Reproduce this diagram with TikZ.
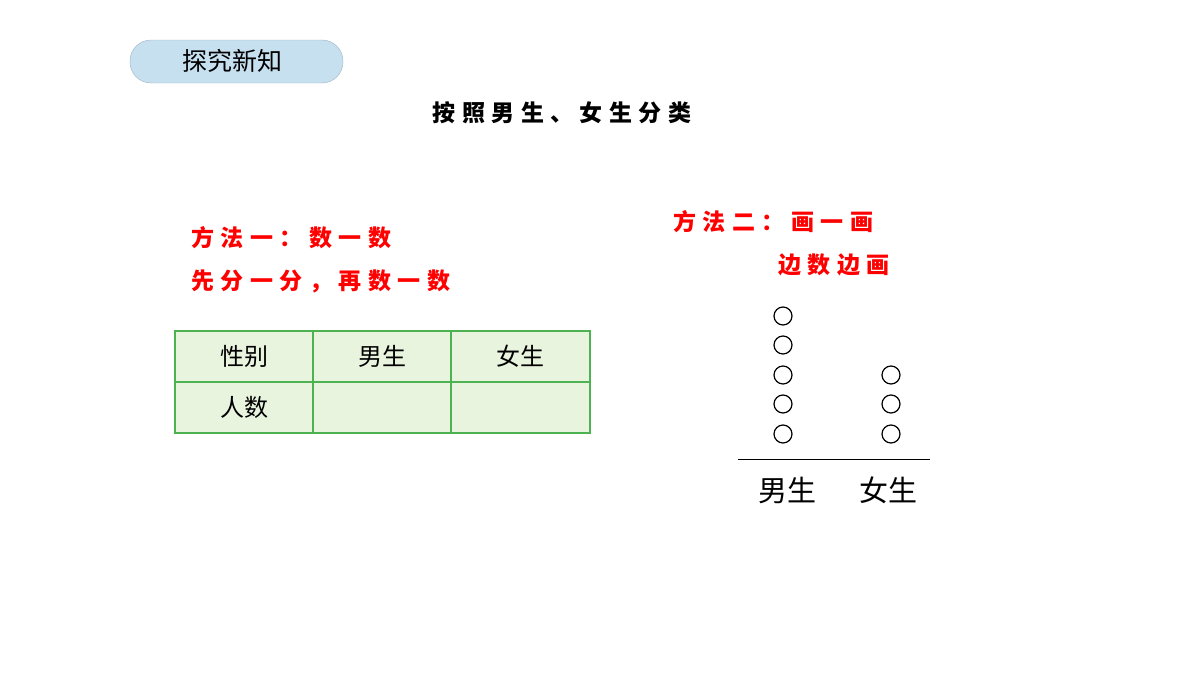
\documentclass[tikz,border=0pt]{standalone}
\usepackage{fontspec}
\newfontfamily\cjk{Noto Sans CJK SC}
\newfontfamily\cjkwide{Noto Sans CJK SC}[LetterSpace=28]
\definecolor{pillblue}{HTML}{C6E0F0}
\definecolor{cellgreen}{HTML}{E9F4DE}
\definecolor{linegreen}{HTML}{4DB352}
\tikzstyle{every node}=[font=\cjk]
\tikzset{
  redtext/.style={anchor=west, red, font=\cjkwide\fontsize{23}{26}\selectfont\bfseries},
  cell/.style={font=\cjk\fontsize{24}{28}\selectfont},
  dot/.style={circle, draw, very thick, minimum size=18pt, inner sep=0pt}
}
\begin{document}
\begin{tikzpicture}[x=1pt, y=-1pt]
\useasboundingbox (0,0) rectangle (1200,675);
% Heading
    \filldraw[fill=pillblue, draw=pillblue!80!black, thin, rounded corners=21pt] (130,40) rectangle (343,83);
    \node[font=\cjk\fontsize{25}{28}\selectfont] (head) at (232,61) {探究新知};
    \node[font=\cjkwide\fontsize{23}{26}\selectfont\bfseries] (title) at (562,113) {按照男生、女生分类};
% Method one
    \node[redtext] (m1) at (188,238) {方法一：数一数};
    \node[redtext] (m1b) at (188,281) {先分一分，再数一数};
% Table
    \fill[cellgreen] (175,331) rectangle (590,433);
    \draw[linegreen, very thick] (175,331) rectangle (590,433);
    \draw[linegreen, very thick] (175,382) -- (590,382);
    \draw[linegreen, very thick] (313,331) -- (313,433);
    \draw[linegreen, very thick] (451,331) -- (451,433);
    \node[cell] (c11) at (244,356) {性别};
    \node[cell] (c12) at (382,356) {男生};
    \node[cell] (c13) at (520,356) {女生};
    \node[cell] (c21) at (244,407) {人数};
% Method two
    \node[redtext] (m2) at (670,222) {方法二：画一画};
    \node[redtext] (m2b) at (775,265) {边数边画};
% Circles
    \foreach \y in {316,345,375,404,434}
        \node[dot] at (783,\y) {};
    \foreach \y in {375,404,434}
        \node[dot] at (891,\y) {};
    \draw[thick] (738,459) -- (930,459);
    \node[font=\cjk\fontsize{29}{32}\selectfont] (boys) at (787,490) {男生};
    \node[font=\cjk\fontsize{29}{32}\selectfont] (girls) at (888,490) {女生};
\end{tikzpicture}
\end{document}
